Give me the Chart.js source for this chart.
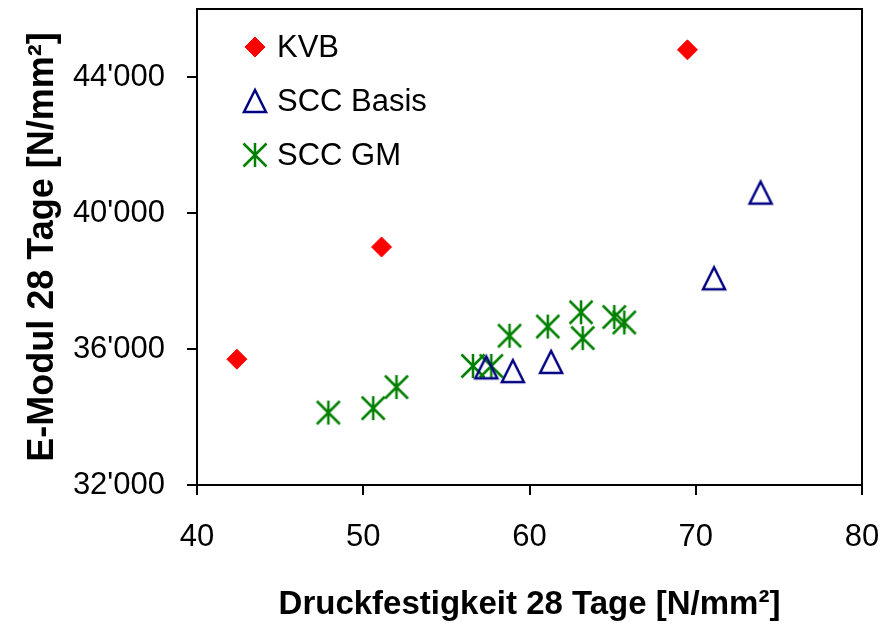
<!DOCTYPE html>
<html>
<head>
<meta charset="utf-8">
<script src="https://cdn.jsdelivr.net/npm/chart.js@4/dist/chart.umd.min.js"></script>
<style>
  body { margin: 0; background: #fff; }
</style>
</head>
<body>
<canvas id="chart" width="886" height="626"></canvas>
<script>
// Daten
const kvbX = [42.4, 51.1, 69.5];
const kvbY = [35700, 39000, 44800];

const basisX = [57.4, 59.0, 61.3, 71.1, 73.9];
const basisY = [35460, 35350, 35620, 38080, 40600];

const gmX = [47.9, 50.6, 52.0, 56.6, 57.7, 58.8, 61.1, 63.1, 63.2, 65.1, 65.7];
const gmY = [34130, 34260, 34880, 35500, 35500, 36390, 36660, 37080, 36320, 36940, 36780];

const xTicks = [40, 50, 60, 70, 80];
const yTicks = [32000, 36000, 40000, 44000];

const FONT = "'Liberation Sans', Arial, sans-serif";

function punkte(xs, ys) {
  return xs.map((x, i) => ({ x: x, y: ys[i] }));
}

// Marker: Dreieck (leer) und Stern
function dreieck() {
  const c = document.createElement("canvas");
  c.width = 30; c.height = 30;
  const g = c.getContext("2d");
  g.strokeStyle = "#000080";
  g.lineWidth = 2.5;
  g.beginPath();
  g.moveTo(15, 4);
  g.lineTo(26, 26);
  g.lineTo(4, 26);
  g.closePath();
  g.stroke();
  return c;
}

function stern() {
  const c = document.createElement("canvas");
  c.width = 30; c.height = 30;
  const g = c.getContext("2d");
  g.strokeStyle = "#008000";
  g.lineWidth = 2.5;
  g.beginPath();
  g.moveTo(15, 3); g.lineTo(15, 27);
  g.moveTo(3.5, 3.5); g.lineTo(26.5, 26.5);
  g.moveTo(26.5, 3.5); g.lineTo(3.5, 26.5);
  g.stroke();
  return c;
}

const imgDreieck = dreieck();
const imgStern = stern();

// Rahmen um den Plotbereich
const rahmen = {
  id: "rahmen",
  afterDraw(chart) {
    const a = chart.chartArea;
    const ctx = chart.ctx;
    ctx.save();
    ctx.strokeStyle = "#000";
    ctx.lineWidth = 2;
    ctx.strokeRect(a.left, a.top, a.right - a.left, a.bottom - a.top);
    ctx.restore();
  }
};

// Legende im Plotbereich
const legende = {
  id: "legende",
  afterDraw(chart) {
    const a = chart.chartArea;
    const ctx = chart.ctx;
    ctx.save();
    chart.data.datasets.forEach((ds, i) => {
      const x = a.left + 58;
      const y = a.top + 38 + i * 54;
      ctx.fillStyle = ds.backgroundColor;
      ctx.strokeStyle = ds.borderColor;
      ctx.lineWidth = ds.borderWidth;
      Chart.helpers.drawPoint(ctx, {
        pointStyle: ds.pointStyle,
        radius: ds.pointRadius,
        rotation: 0,
        borderWidth: ds.borderWidth
      }, x, y);
      ctx.fillStyle = "#000";
      ctx.font = "31px " + FONT;
      ctx.textAlign = "left";
      ctx.textBaseline = "middle";
      ctx.fillText(ds.label, x + 22, y + 1);
    });
    ctx.restore();
  }
};

new Chart(document.getElementById("chart"), {
  type: "scatter",
  data: {
    datasets: [
      {
        label: "KVB",
        data: punkte(kvbX, kvbY),
        pointStyle: "rectRot",
        pointRadius: 10,
        backgroundColor: "#ff0000",
        borderColor: "#ff0000",
        borderWidth: 1
      },
      {
        label: "SCC Basis",
        data: punkte(basisX, basisY),
        pointStyle: imgDreieck,
        pointRadius: 12,
        backgroundColor: "#000080",
        borderColor: "#000080",
        borderWidth: 2.5
      },
      {
        label: "SCC GM",
        data: punkte(gmX, gmY),
        pointStyle: imgStern,
        pointRadius: 12,
        backgroundColor: "#008000",
        borderColor: "#008000",
        borderWidth: 2.5
      }
    ]
  },
  options: {
    responsive: false,
    animation: false,
    events: [],
    layout: { autoPadding: false, padding: { top: 9, right: 24, left: 0, bottom: 0 } },
    plugins: {
      legend: { display: false },
      tooltip: { enabled: false }
    },
    scales: {
      x: {
        type: "linear",
        min: 40,
        max: 80,
        afterBuildTicks: (s) => { s.ticks = xTicks.map(v => ({ value: v })); },
        afterFit: (s) => {
          s.height = 141;
          s.paddingLeft = 0; s.paddingRight = 0;
          s.paddingTop = 0; s.paddingBottom = 0;
        },
        ticks: {
          color: "#000",
          font: { family: FONT, size: 31 },
          padding: 24
        },
        grid: {
          drawOnChartArea: false,
          color: "#000",
          lineWidth: 2,
          tickLength: 10
        },
        border: { color: "#000", width: 2 },
        title: {
          display: true,
          text: "Druckfestigkeit 28 Tage [N/mm²]",
          color: "#000",
          font: { family: FONT, size: 33, weight: "bold" },
          padding: { top: 0, bottom: 1 }
        }
      },
      y: {
        type: "linear",
        min: 32000,
        max: 46000,
        afterBuildTicks: (s) => { s.ticks = yTicks.map(v => ({ value: v })); },
        afterFit: (s) => {
          s.width = 197;
          s.paddingLeft = 0; s.paddingRight = 0;
          s.paddingTop = 0; s.paddingBottom = 0;
        },
        ticks: {
          color: "#000",
          font: { family: FONT, size: 31 },
          padding: 22,
          callback: (v) => String(v).replace(/\B(?=(\d{3})+(?!\d))/g, "'")
        },
        grid: {
          drawOnChartArea: false,
          color: "#000",
          lineWidth: 2,
          tickLength: 10
        },
        border: { color: "#000", width: 2 },
        title: {
          display: true,
          text: "E-Modul 28 Tage [N/mm²]",
          color: "#000",
          font: { family: FONT, size: 36, weight: "bold" },
          padding: { top: 21, bottom: 0 }
        }
      }
    }
  },
  plugins: [rahmen, legende]
});
</script>
</body>
</html>
